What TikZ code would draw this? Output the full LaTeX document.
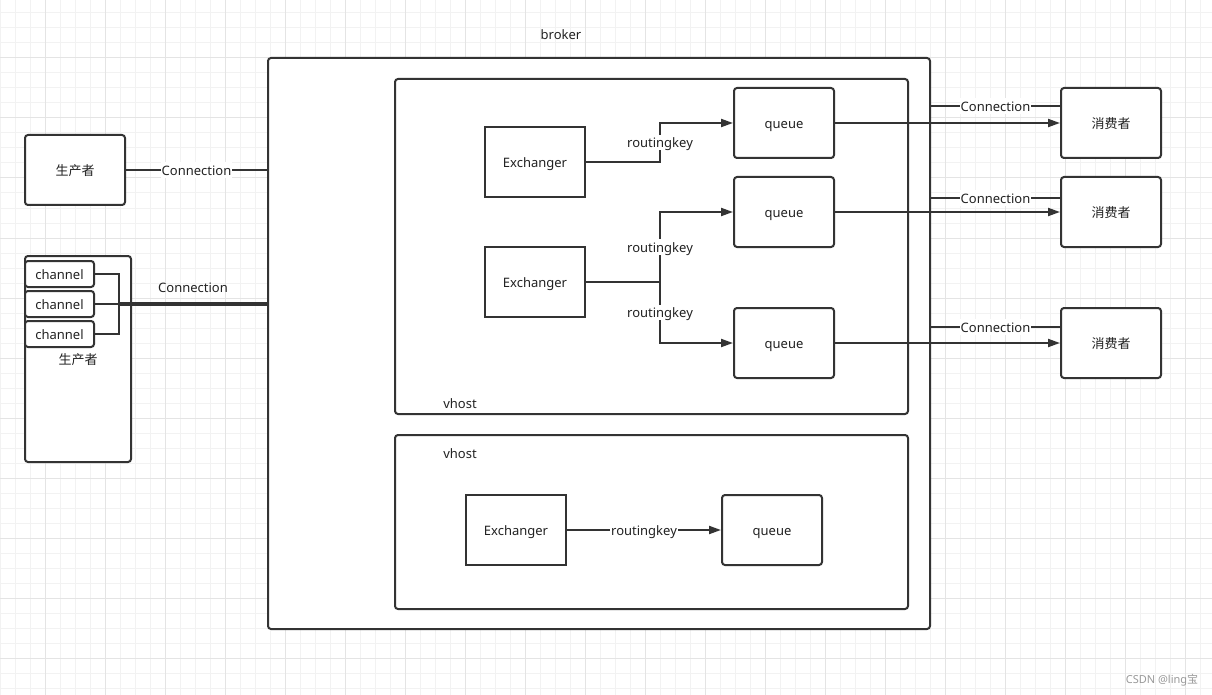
\documentclass[tikz,border=0pt]{standalone}
\usepackage{fontspec}
\setmainfont{Noto Sans}
\newfontfamily\cjk{Noto Sans CJK SC}
\usetikzlibrary{arrows.meta}
\definecolor{ln}{HTML}{333333}
\definecolor{txt}{HTML}{222222}
\definecolor{gminor}{HTML}{F2F2F2}
\definecolor{gmajor}{HTML}{E4E4E4}
\begin{document}
\begin{tikzpicture}[x=1pt,y=-1pt,
  font=\fontsize{13}{15}\selectfont, text=txt,
  txtnode/.style={text height=12pt, text depth=1.6pt},
  box/.style={draw=ln, line width=2pt, fill=white, rounded corners=3pt, inner sep=0pt, txtnode},
  sqbox/.style={draw=ln, line width=2pt, fill=white, inner sep=0pt, txtnode},
  con/.style={draw=ln, line width=2pt},
  arr/.style={draw=ln, line width=2pt, -{Triangle[length=12pt,width=8pt]}},
  lbl/.style={fill=white, inner sep=1pt, text=txt, txtnode},
  plain/.style={txtnode},
  minorg/.style={draw=gminor, line width=1pt},
  majorg/.style={draw=gmajor, line width=1pt}]
\useasboundingbox (0,0) rectangle (1212,695);
\fill[white] (0,0) rectangle (1212,695);
% grid
\foreach \x in {0,15,...,1210} {\draw[minorg] (\x,0) -- (\x,695);}
\foreach \y in {13,28,...,694} {\draw[minorg] (0,\y) -- (1212,\y);}
\foreach \x in {45,105,...,1210} {\draw[majorg] (\x,0) -- (\x,695);}
\foreach \y in {58,118,...,694} {\draw[majorg] (0,\y) -- (1212,\y);}

% broker
\node[plain] (brokerlbl) at (561,34) {broker};
\node[box, minimum width=662pt, minimum height=571pt] (broker) at (599,343.5) {};
\node[box, minimum width=513pt, minimum height=335pt] (vh1) at (651.5,246.5) {};
\node[box, minimum width=513pt, minimum height=174pt] (vh2) at (651.5,522) {};
\node[plain] (vh1lbl) at (460,403) {vhost};
\node[plain] (vh2lbl) at (460,453) {vhost};

% exchangers and queues
\node[sqbox, minimum width=100pt, minimum height=70pt] (e1) at (535,162) {Exchanger};
\node[sqbox, minimum width=100pt, minimum height=70pt] (e2) at (535,282) {Exchanger};
\node[sqbox, minimum width=100pt, minimum height=70pt] (e3) at (516,530) {Exchanger};
\node[box, minimum width=100pt, minimum height=70pt] (q1) at (784,123) {queue};
\node[box, minimum width=100pt, minimum height=70pt] (q2) at (784,212) {queue};
\node[box, minimum width=100pt, minimum height=70pt] (q3) at (784,343) {queue};
\node[box, minimum width=100pt, minimum height=70pt] (q4) at (772,530) {queue};

% consumers
\node[box, minimum width=100pt, minimum height=70pt] (c1) at (1111,123) {\cjk 消费者};
\node[box, minimum width=100pt, minimum height=70pt] (c2) at (1111,212) {\cjk 消费者};
\node[box, minimum width=100pt, minimum height=70pt] (c3) at (1111,343) {\cjk 消费者};

% producers
\node[box, minimum width=100pt, minimum height=70pt] (p1) at (75,170) {\cjk 生产者};
\node[box, minimum width=106pt, minimum height=206pt] (p2) at (78,359) {\cjk 生产者};
\node[box, minimum width=69pt, minimum height=26pt] (ch1) at (59.5,274) {channel};
\node[box, minimum width=69pt, minimum height=26pt] (ch2) at (59.5,304) {channel};
\node[box, minimum width=69pt, minimum height=26pt] (ch3) at (59.5,334) {channel};

% routing connectors
\draw[arr] (e1.east) -- ++(74,0) |- (q1.west) node[pos=0.25, lbl] {routingkey};
\draw[arr] (e2.east) -- ++(74,0) coordinate (j2) |- (q2.west) node[pos=0.25, lbl] {routingkey};
\draw[arr] (j2) |- (q3.west) node[pos=0.25, lbl] {routingkey};
\draw[arr] (e3.east) -- (q4.west) node[midway, lbl] {routingkey};

% queue to consumer
\draw[arr] (q1.east) -- (c1.west);
\draw[arr] (q2.east) -- (c2.west);
\draw[arr] (q3.east) -- (c3.west);

% connections right
\draw[con] (broker.east |- 0,106) -- (c1.west |- 0,106) node[midway, lbl] {Connection};
\draw[con] (broker.east |- 0,198) -- (c2.west |- 0,198) node[midway, lbl] {Connection};
\draw[con] (broker.east |- 0,327) -- (c3.west |- 0,327) node[midway, lbl] {Connection};

% connections left
\draw[con] (p1.east) -- (p1.east -| broker.west) node[midway, lbl] {Connection};
\draw[con] (ch1.east) -- ++(24,0) coordinate (m1) |- (ch3.east);
\coordinate (m2) at (m1 |- ch2.east);
\draw[con] (ch2.east) -- (m2);
\draw[draw=ln, line width=3.5pt] (m2) -- (m2 -| broker.west) node[midway, yshift=17pt, plain] {Connection};

% watermark
\node[text=gray!80, font=\fontsize{11}{13}\selectfont, plain] (wm) at (1162,678) {CSDN @ling{\cjk 宝}};
\end{tikzpicture}
\end{document}
